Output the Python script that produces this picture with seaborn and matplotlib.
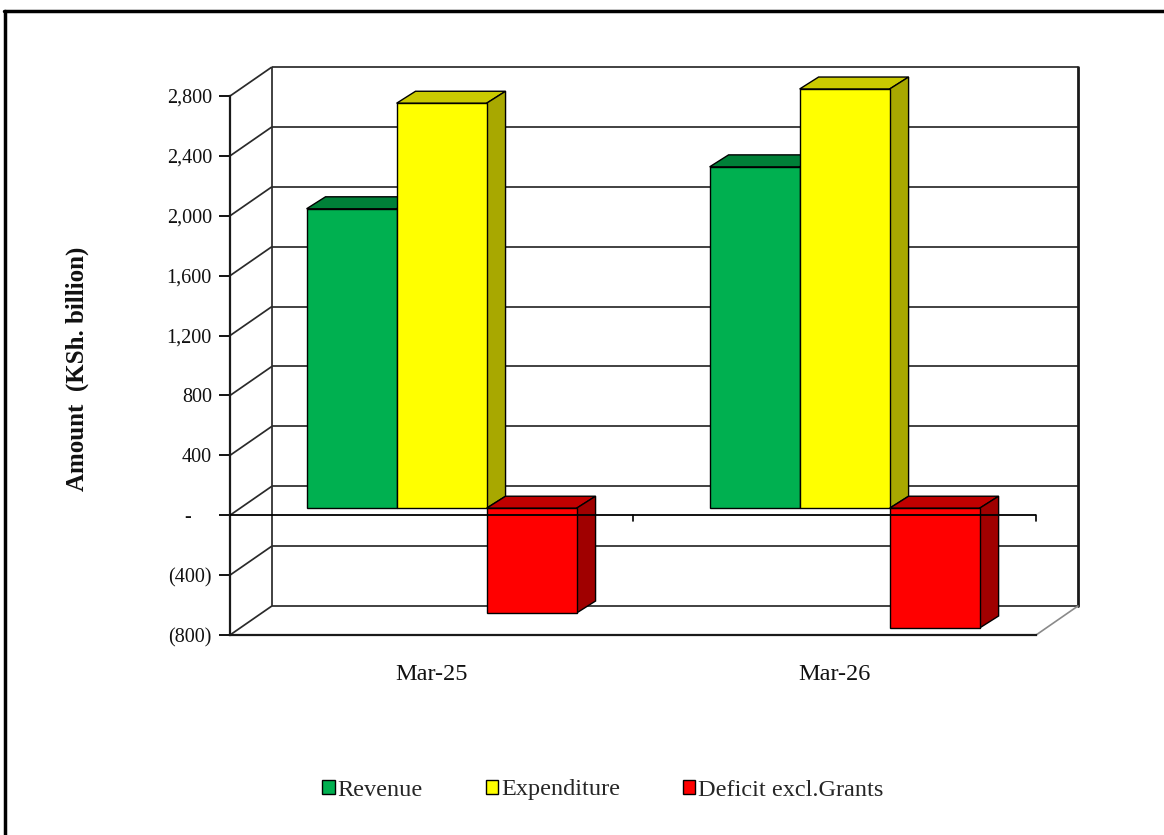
import numpy as np
import pandas as pd
import matplotlib
matplotlib.use("Agg")
import matplotlib.pyplot as plt
import seaborn as sns
from matplotlib.patches import Polygon, Patch
from matplotlib.lines import Line2D

# ---- data (KSh. billion) ----
periods = ["Mar-25", "Mar-26"]
series = ["Revenue", "Expenditure", "Deficit excl.Grants"]
revenue = [2000, 2280]
expenditure = [2705, 2800]
deficit = [-700, -800]

y_ticks = [-800, -400, 0, 400, 800, 1200, 1600, 2000, 2400, 2800]
y_tick_labels = ["(800)", "(400)", "-\u2007\u2007", "400", "800", "1,200",
                 "1,600", "2,000", "2,400", "2,800"]

# ---- styling ----
front_colors = ["#00B050", "#FFFF00", "#FF0000"]
top_colors = ["#008038", "#CACA00", "#C00000"]
side_colors = ["#006B2E", "#A8A800", "#A00000"]

W, H = 1164, 835
WALL_DX, WALL_DY = 0.104, 194      # depth of the box (x units, value units)
BAR_DX, BAR_DY = 0.047, 80         # depth of each bar
SHIFT_X, SHIFT_Y = 0.025, 47       # bars sit a little behind the front plane

sns.set_theme(style="white")
plt.rcParams["font.family"] = ["Liberation Serif", "DejaVu Serif"]

fig = plt.figure(figsize=(W / 100, H / 100), dpi=100)
fig.patch.set_facecolor("white")
ax = fig.add_axes([230 / W, 200 / H, 848 / W, 568 / H])

df = pd.DataFrame({
    "period": periods * 3,
    "series": np.repeat(series, len(periods)),
    "value": revenue + expenditure + deficit,
})

sns.barplot(data=df, x="period", y="value", hue="series", order=periods,
            hue_order=series, palette=front_colors, saturation=1,
            width=0.67, gap=0, edgecolor="black", linewidth=1.0,
            errorbar=None, legend=False, ax=ax)

ymin, ymax = y_ticks[0], y_ticks[-1]
ax.set_xlim(-0.5, len(periods) - 0.5 + WALL_DX)
ax.set_ylim(ymin, ymax + WALL_DY)
ax.set_facecolor("none")

# ---- walls and floor ----
grid_kw = dict(color="#2a2a2a", lw=1.25, zorder=1, clip_on=False,
               solid_capstyle="butt")
x_left, x_right = -0.5, len(periods) - 0.5
for v in y_ticks:
    ax.plot([x_left + WALL_DX, x_right + WALL_DX], [v + WALL_DY] * 2, **grid_kw)
    ax.plot([x_left, x_left + WALL_DX], [v, v + WALL_DY], **grid_kw)
ax.plot([x_left + WALL_DX] * 2, [ymin + WALL_DY, ymax + WALL_DY], **grid_kw)
ax.plot([x_right + WALL_DX] * 2, [ymin + WALL_DY, ymax + WALL_DY],
        color="#1a1a1a", lw=2.0, zorder=1, clip_on=False)
ax.plot([x_right, x_right + WALL_DX], [ymin, ymin + WALL_DY],
        color="#8a8a8a", lw=1.2, zorder=1, clip_on=False)

# ---- 3-D faces for the bars ----
records = []
for h, cont in enumerate(ax.containers):
    for bar in cont:
        records.append((bar.get_x(), h, bar))
records.sort(key=lambda r: r[0])

for i, (_, h, bar) in enumerate(records):
    x0 = bar.get_x() + SHIFT_X
    y0 = bar.get_y() + SHIFT_Y
    w = bar.get_width()
    hgt = bar.get_height()
    bar.set_x(x0)
    bar.set_y(y0)
    base_z = 3 + i * 0.1
    bar.set_zorder(base_z + 0.05)
    ytop = max(y0, y0 + hgt)
    ybot = min(y0, y0 + hgt)
    top = Polygon([(x0, ytop), (x0 + w, ytop), (x0 + w + BAR_DX, ytop + BAR_DY),
                   (x0 + BAR_DX, ytop + BAR_DY)], closed=True,
                  fc=top_colors[h], ec="black", lw=1.0, zorder=base_z)
    side = Polygon([(x0 + w, ybot), (x0 + w + BAR_DX, ybot + BAR_DY),
                    (x0 + w + BAR_DX, ytop + BAR_DY), (x0 + w, ytop)], closed=True,
                   fc=side_colors[h], ec="black", lw=1.0, zorder=base_z)
    ax.add_patch(top)
    ax.add_patch(side)

# ---- front axis line at zero with category separators ----
ax.plot([x_left, x_right], [0, 0], color="black", lw=1.3, zorder=10,
        solid_capstyle="butt")
for xs in np.arange(x_left + 1, x_right + 0.01, 1):
    ax.plot([xs, xs], [0, -40], color="black", lw=1.2, zorder=10)

# ---- spines and ticks ----
for s in ["top", "right"]:
    ax.spines[s].set_visible(False)
ax.spines["left"].set_bounds(ymin, ymax)
ax.spines["left"].set_color("#1a1a1a")
ax.spines["left"].set_linewidth(1.6)
ax.spines["bottom"].set_bounds(x_left, x_right)
ax.spines["bottom"].set_color("#1a1a1a")
ax.spines["bottom"].set_linewidth(1.6)

ax.set_yticks(y_ticks)
ax.set_yticklabels(y_tick_labels)
ax.tick_params(axis="y", left=True, length=8, width=1.3, color="black",
               pad=5, labelsize=14.5, labelcolor="#111111")
ax.tick_params(axis="x", bottom=False, pad=15, labelsize=17.5,
               labelcolor="#111111")
ax.set_xlabel("")
ax.set_ylabel("")

fig.text(77 / W, 1 - 369 / H, "Amount  (KSh. billion)", rotation=90,
         ha="center", va="center", fontsize=18, fontweight="bold",
         color="#111111")

# ---- legend ----
handles = [Patch(fc=c, ec="black", lw=1.0) for c in front_colors]
fig.legend(handles, series, loc="center", bbox_to_anchor=(603 / W, 1 - 790 / H),
           ncol=3, frameon=False, fontsize=17.5, handlelength=0.5,
           handleheight=0.5, handletextpad=0.12, columnspacing=2.6)

# ---- outer frame ----
fig.add_artist(Line2D([5 / W, 5 / W], [0, 1 - 11 / H], transform=fig.transFigure,
                      color="black", lw=2.5))
fig.add_artist(Line2D([4 / W, 1], [1 - 11 / H, 1 - 11 / H],
                      transform=fig.transFigure, color="black", lw=2.5))

fig.savefig("out.png", dpi=100, facecolor="white")
